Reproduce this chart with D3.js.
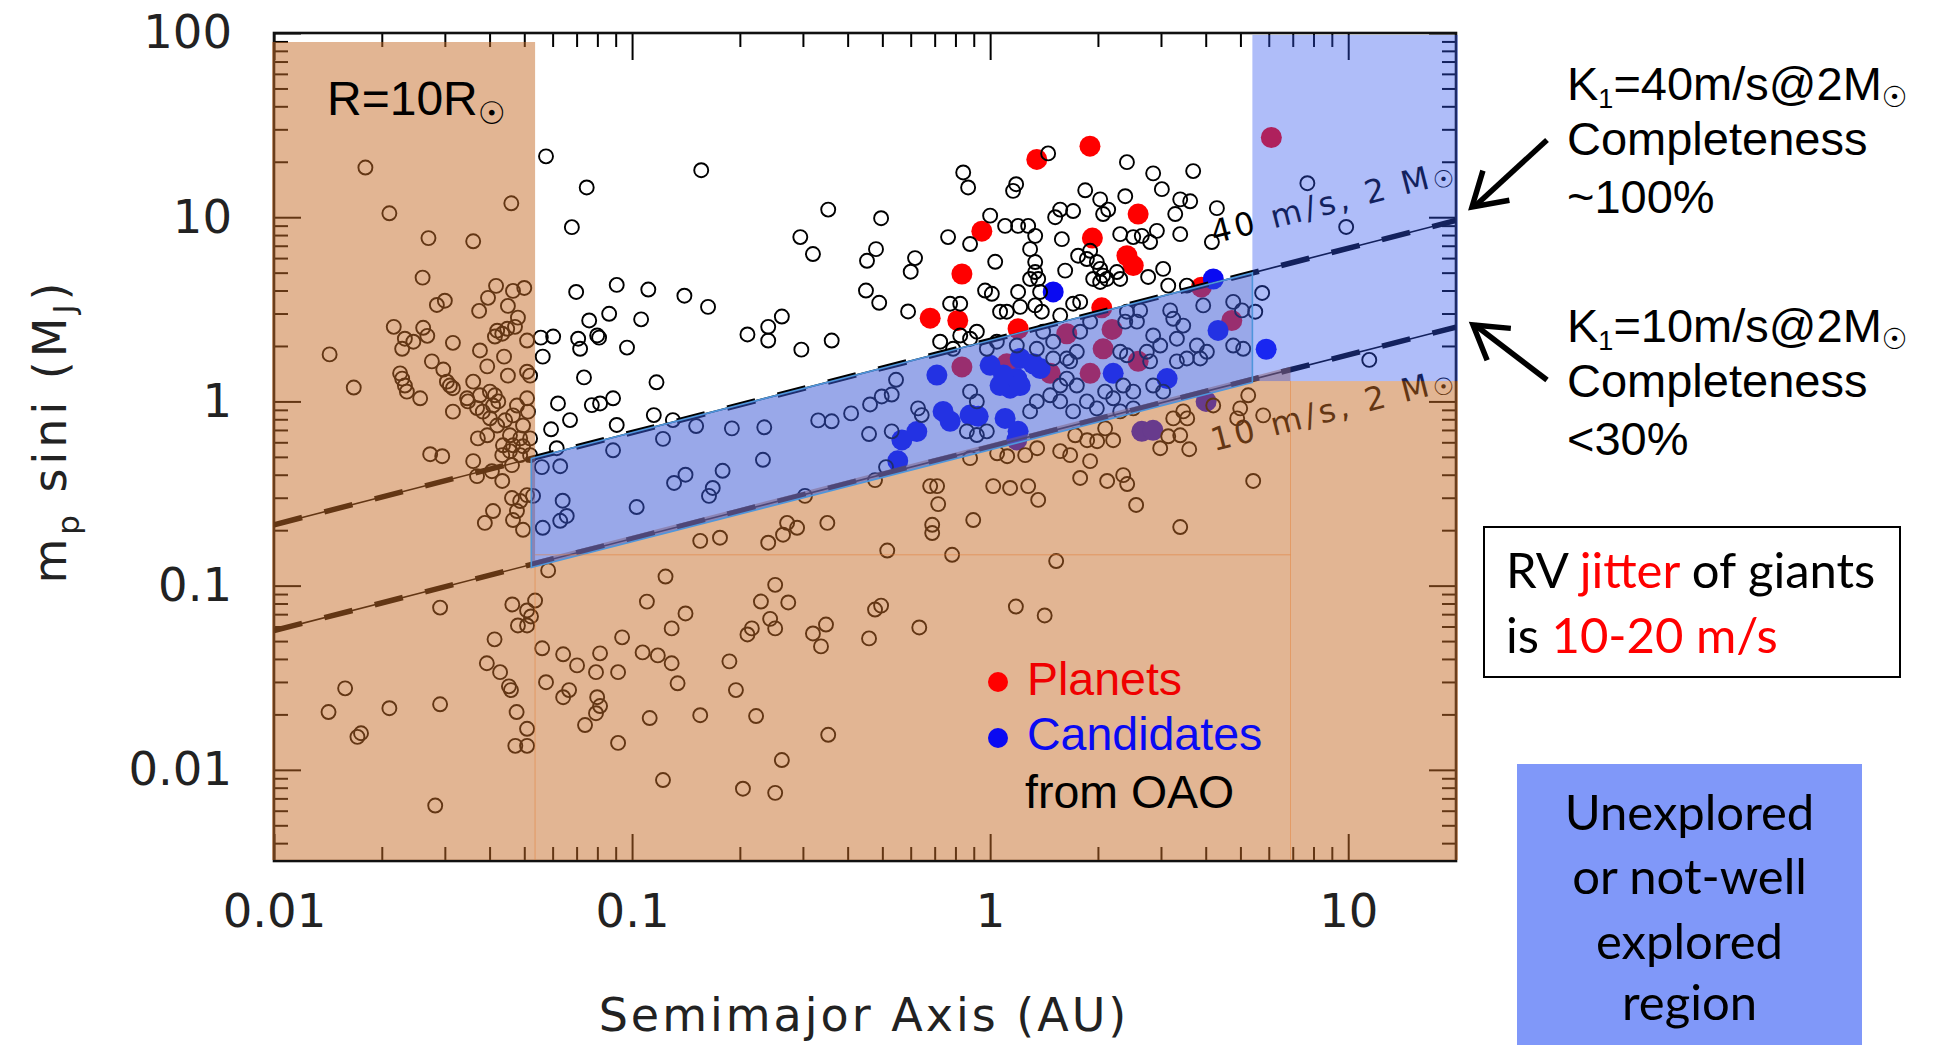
<!DOCTYPE html>
<html>
<head>
<meta charset="utf-8">
<script src="https://cdn.jsdelivr.net/npm/d3@7"></script>
<style>
html,body{margin:0;padding:0;background:#fff;}
svg{display:block;}
</style>
</head>
<body>
<svg id="chart" width="1936" height="1045"></svg>
<script>
// ================= DATA =================
const xDomain = [0.01, 20];
const yDomain = [0.0032, 100];
const xTickValues = [0.01, 0.1, 1, 10];
const xTickLabels = ["0.01", "0.1", "1", "10"];
const yTickValues = [0.01, 0.1, 1, 10, 100];
const yTickLabels = ["0.01", "0.1", "1", "10", "100"];

// known exoplanets (open circles): [semimajor axis AU, m sin i MJ]
const knownPlanets = [
[0.018,18.6],[0.021,10.5],[0.046,11.9],[0.027,7.7],[0.036,7.4],[0.026,4.7],
[0.0285,3.34],[0.030,3.52],[0.0374,3.1],[0.0396,3.65],[0.0417,4.24],[0.045,3.3],[0.0465,3.98],[0.050,4.13],[0.048,2.85],
[0.0216,2.54],[0.0232,2.19],[0.0245,2.11],[0.0228,1.93],[0.0261,2.51],[0.0268,2.27],
[0.0316,2.08],[0.0376,1.89],
[0.0414,2.25],[0.0434,2.33],[0.042,2.42],[0.0448,2.48],[0.0471,2.54],[0.0509,2.14],
[0.0276,1.65],[0.0297,1.49],
[0.0225,1.42],[0.0228,1.33],[0.0232,1.22],[0.0235,1.13],[0.0256,1.04],
[0.031,1.22],[0.0316,1.18],[0.0304,1.28],
[0.036,1.28],[0.0394,1.55],[0.0439,1.75],[0.045,1.38],[0.0509,1.45],[0.0519,1.38],
[0.0348,1.0],[0.0346,1.04],[0.0376,1.08],[0.0401,1.13],[0.0414,1.08],[0.0423,1.0],[0.0409,0.95],
[0.0316,0.88],
[0.0369,0.92],[0.0383,0.88],[0.0401,0.81],[0.0371,0.63],[0.0394,0.655],[0.042,0.74],[0.0442,0.79],[0.0465,0.84],[0.0477,0.95],[0.0509,1.04],[0.0512,0.88],[0.0496,0.74],[0.0487,0.63],[0.0456,0.655],[0.0436,0.578],[0.0465,0.578],[0.0496,0.571],[0.0519,0.63],[0.0434,0.511],[0.0456,0.537],[0.0487,0.511],[0.0519,0.511],
[0.0273,0.517],[0.0295,0.504],
[0.036,0.474],[0.0369,0.393],
[0.0406,0.418],[0.0434,0.37],
[0.0462,0.451],
[0.0409,0.254],[0.0388,0.219],[0.0462,0.299],[0.0487,0.288],[0.0477,0.254],[0.0465,0.227],[0.0496,0.201],[0.0509,0.31],
[0.0143,1.8],[0.0167,1.19],
[0.0463,0.079],[0.0509,0.0733],[0.0522,0.068],[0.048,0.0608],[0.0509,0.0608],
[0.0291,0.076],[0.0413,0.0511],[0.0393,0.0379],[0.0428,0.0339],[0.0453,0.0284],[0.0459,0.0271],[0.0476,0.0206],[0.0509,0.0167],[0.0472,0.0135],[0.0509,0.0135],
[0.0158,0.0277],[0.0142,0.0206],[0.021,0.0216],[0.0291,0.0227],[0.0171,0.0151],[0.0175,0.0158],[0.0282,0.0064],
[0.0575,21.4],[0.156,18.0],[0.0747,14.5],[0.0679,8.83],[0.353,11.0],[0.496,9.88],[0.295,7.8],[0.32,6.31],[0.48,6.71],[0.453,5.8],[0.617,6.0],[0.60,5.06],[0.45,4.0],[0.49,3.43],[0.59,3.08],[0.0698,3.93],[0.0906,4.29],[0.111,4.05],[0.14,3.75],[0.163,3.26],[0.0759,2.75],[0.0863,2.99],[0.106,2.79],[0.0556,2.22],[0.0602,2.25],[0.0707,2.19],[0.0799,2.28],[0.0809,2.22],[0.0716,1.93],[0.0563,1.75],[0.0968,1.96],[0.21,2.31],[0.24,2.54],[0.262,2.89],[0.24,2.14],[0.297,1.91],[0.361,2.14],[0.0734,1.35],[0.117,1.27],[0.0621,0.975],[0.0772,0.955],[0.0814,0.975],[0.0885,1.04],[0.0671,0.792],[0.0594,0.706],[0.0906,0.745],[0.115,0.843],[0.13,0.792],[0.0616,0.557],
[0.0885,0.543],[0.122,0.626],[0.151,0.735],[0.19,0.714],[0.234,0.724],[0.331,0.789],[0.361,0.78],[0.409,0.861],[0.462,0.963],[0.498,1.064],[0.531,1.09],[0.546,1.31],[0.459,0.665],[0.531,0.688],[0.629,0.917],[0.644,0.843],[0.056,0.44],[0.063,0.445],[0.0529,0.307],[0.064,0.289],[0.0657,0.239],[0.063,0.225],[0.0563,0.206],[0.103,0.267],[0.131,0.361],[0.141,0.40],[0.179,0.42],[0.168,0.339],[0.164,0.307],[0.232,0.482],[0.512,0.44],
[0.0583,0.121],[0.0536,0.083],[0.0561,0.0457],[0.0642,0.0424],[0.0702,0.0369],[0.0793,0.0339],[0.0814,0.0429],[0.0914,0.0339],[0.0938,0.0524],[0.107,0.0434],[0.118,0.0418],[0.129,0.0379],[0.134,0.0295],[0.110,0.0819],[0.124,0.112],[0.141,0.0706],[0.129,0.0586],[0.0575,0.0299],[0.0642,0.0248],[0.0667,0.0271],[0.0799,0.0248],[0.0814,0.0222],[0.0793,0.0203],[0.0739,0.0175],[0.0914,0.014],[0.112,0.0191],[0.122,0.0088],[0.155,0.0198],
[0.251,0.101],[0.229,0.082],[0.273,0.081],[0.243,0.066],[0.216,0.0586],[0.21,0.0543],[0.251,0.0586],[0.348,0.0615],[0.32,0.055],[0.337,0.0468],[0.459,0.0517],[0.477,0.0742],[0.496,0.0779],[0.634,0.0593],[1.18,0.077],[1.42,0.0689],[0.187,0.0388],[0.195,0.0271],[0.222,0.0196],[0.353,0.0155],[0.262,0.0113],[0.204,0.0079],[0.251,0.0075],
[0.477,0.374],[0.304,0.307],[0.271,0.219],[0.289,0.206],[0.264,0.189],[0.24,0.171],[0.351,0.219],[0.155,0.175],[0.176,0.182],[0.516,0.155],[0.68,0.347],[0.711,0.347],[0.716,0.277],[0.689,0.214],[0.689,0.193],[0.783,0.147],[0.897,0.227],[1.02,0.347],[1.137,0.339],[1.277,0.347],[1.362,0.292],[0.879,0.492],[1.046,0.523],[1.116,0.504],[1.253,0.511],[1.529,0.136],[1.784,0.384],[2.122,0.37],[2.353,0.398],[2.414,0.356],[2.557,0.274],[3.395,0.208],[5.428,0.37],
[1.728,0.655],[1.866,0.616],[1.99,0.608],[1.902,0.474],[1.569,0.537],[1.673,0.511],[1.353,0.557],[2.095,0.714],[2.206,0.616],[2.985,0.557],[3.143,0.647],[3.395,0.655],[3.597,0.55],[3.461,0.883],[3.246,0.809],[3.551,0.809],[4.198,0.951],[4.993,0.917],[4.897,0.809],[5.257,1.08],[5.788,0.84],
[2.41,19.9],[0.841,17.5],[0.868,14.5],[1.452,22.2],[1.182,15.1],[1.159,13.9],[2.853,17.3],[3.017,14.2],[3.69,17.8],[1.843,14.0],[2.029,12.5],[2.136,11.0],[2.068,10.4],[2.384,13.0],[3.395,12.5],[3.62,12.2],[4.298,11.2],[3.288,10.4],[1.569,11.0],[1.705,10.8],[1.519,10.0],[1.0,10.2],[1.101,8.97],[1.197,8.97],[1.277,8.97],[0.763,7.8],[0.879,7.15],[1.336,7.92],[1.293,6.71],[1.586,7.6],[2.308,8.09],[2.51,7.8],[2.652,7.92],[2.798,7.33],[2.922,8.43],[3.395,8.09],[4.162,7.33],
[1.033,5.73],[1.336,5.71],[1.336,5.04],[1.293,4.62],[1.62,5.13],[1.761,6.18],[1.863,5.93],[1.902,6.57],[1.986,5.71],[2.029,5.24],[2.068,4.82],[1.94,4.62],[2.029,4.45],[2.118,4.62],[2.259,5.04],[2.308,4.62],[2.762,4.74],[3.042,5.24],[3.143,4.25],[0.968,4.0],[1.011,3.84],[1.197,3.93],[1.362,4.62],[1.379,3.93],[0.773,3.39],[0.825,3.39],[1.066,3.07],[1.113,3.07],[1.213,3.26],[1.336,3.32],[1.394,3.07],[1.569,2.93],[1.705,3.39],[1.784,3.47],[3.543,4.25],[0.918,2.39],[0.725,2.11],[0.825,2.28],[0.788,1.93],[0.879,2.19],
[2.41,3.07],[2.624,3.12],[2.57,2.71],[2.384,2.71],[3.183,3.12],[3.461,2.58],[3.246,2.81],[3.936,3.32],[4.773,3.47],[5.05,3.12],[4.773,2.01],[5.091,1.93],[2.853,2.28],[2.985,2.01],[3.323,2.19],[3.78,2.01],[4.03,1.86],[3.543,1.71],[3.861,1.71],[3.323,1.65],[2.739,1.86],[2.798,1.65],[1.902,2.71],[1.784,2.39],[1.406,2.39],[1.5,2.11],[1.35,1.93],[1.746,1.86],[1.673,1.65],[2.308,1.86],[2.41,1.78],
[2.853,1.22],[3.042,1.13],[2.353,1.22],[2.51,1.13],[2.095,1.13],[2.206,1.04],[1.746,1.22],[1.637,1.33],[1.569,1.22],[1.471,1.08],[1.569,1.0],[1.863,1.0],[1.986,0.917],[2.308,0.883],[2.51,0.917],[1.705,0.883],[1.35,1.0],[1.293,0.883],[0.879,1.13],[0.918,1.0],[0.861,0.688],[0.918,0.657],[0.979,0.688],[0.979,1.93],[1.044,2.11],[1.187,2.01],[1.5,1.71],[1.637,1.71],
[7.69,15.3],[9.87,8.85],[5.75,3.88],[5.5,3.07],[11.45,1.68]
];

// planets found at OAO (red filled)
const oaoPlanets = [
[1.35,20.6],[1.90,24.3],[2.59,10.4],[0.948,8.4],[1.93,7.7],[2.41,6.18],[2.51,5.46],[0.834,4.92],[0.68,2.83],[0.812,2.75],[1.197,2.48],[2.05,3.22],
[3.89,4.17],[4.73,2.75],[1.637,2.33],[2.19,2.46],[2.068,1.93],[0.834,1.54],[1.471,1.42],[1.902,1.42],[2.59,1.65],[1.113,1.6],[6.1,27.1]
];

// candidates from OAO (blue filled)
const oaoCandidates = [
[1.5,3.93],[4.2,4.62],[4.33,2.43],[0.71,1.39],[1.0,1.57],[1.213,1.71],[1.32,1.6],[1.38,1.51],[1.066,1.22],[1.137,1.18],[1.187,1.33],[1.09,1.39],[1.213,1.22],[2.206,1.42],[3.12,1.33],[0.739,0.883],[0.773,0.78],[0.879,0.843],[0.926,0.83],[1.101,0.809],[1.197,0.688],[0.567,0.618],[0.624,0.686],[5.9,1.92],
[0.552,0.476],[4.01,1.0],[2.652,0.688],[2.85,0.697],[1.187,0.618]
];

// detection limit lines (K1 at 2 Msun): endpoints [a, m sin i]
const line40 = [[0.01, 0.214], [20, 9.6]];
const line10 = [[0.01, 0.057], [20, 2.53]];

// shaded zones (data units)
const rLimitA = 0.0536;          // R = 10 Rsun
const bandA = [0.0523, 5.4];     // band between the two lines
const stripA = 5.4;              // unexplored strip at large a
const tanRightA = 6.9;
const stripMinM = 1.29;
const tanBoxM = 0.147;

// ================= CHART =================
const svg = d3.select("#chart");
const x = d3.scaleLog().domain(xDomain).range([274, 1456]);
const y = d3.scaleLog().domain(yDomain).range([861, 33]);
const X0 = x.range()[0], X1 = x.range()[1];
const Y1 = y.range()[0], Y0 = y.range()[1];

const TAN = "rgb(198,108,40)";
const STRIP = "rgb(50,85,240)";
const BAND = "rgb(60,88,212)";
const AXFONT = "'DejaVu Sans', sans-serif";
const ARIAL = "'Liberation Sans', Arial, sans-serif";
const CAL = "Lato, 'Open Sans', sans-serif";

function onLine(L, a) {
  const s = Math.log(L[1][1] / L[0][1]) / Math.log(L[1][0] / L[0][0]);
  return L[0][1] * Math.pow(a / L[0][0], s);
}
function minorTicks(dom) {
  const out = [];
  for (let k = -4; k <= 2; k++) for (let d = 2; d <= 9; d++) {
    const v = +(d * Math.pow(10, k)).toPrecision(3);
    if (v > dom[0] * 1.0001 && v < dom[1] * 0.9999) out.push(v);
  }
  return out;
}
const minX = minorTicks(xDomain), minY = minorTicks(yDomain);

// ---- ticks (inward) ----
const tickG = svg.append("g");
function styleTicks(g) { g.select(".domain").remove(); g.selectAll("line").attr("stroke", "#000").attr("stroke-width", 2); g.selectAll("text").remove(); }
tickG.append("g").attr("transform", `translate(0,${Y1})`).call(d3.axisBottom(x).tickValues(minX).tickSize(-14)).call(styleTicks);
tickG.append("g").attr("transform", `translate(0,${Y1})`).call(d3.axisBottom(x).tickValues(xTickValues).tickSize(-27)).call(styleTicks);
tickG.append("g").attr("transform", `translate(0,${Y0})`).call(d3.axisTop(x).tickValues(minX).tickSize(-14)).call(styleTicks);
tickG.append("g").attr("transform", `translate(0,${Y0})`).call(d3.axisTop(x).tickValues(xTickValues).tickSize(-27)).call(styleTicks);
tickG.append("g").attr("transform", `translate(${X0},0)`).call(d3.axisLeft(y).tickValues(minY).tickSize(-14)).call(styleTicks);
tickG.append("g").attr("transform", `translate(${X0},0)`).call(d3.axisLeft(y).tickValues(yTickValues).tickSize(-27)).call(styleTicks);
tickG.append("g").attr("transform", `translate(${X1},0)`).call(d3.axisRight(y).tickValues(minY).tickSize(-14)).call(styleTicks);
tickG.append("g").attr("transform", `translate(${X1},0)`).call(d3.axisRight(y).tickValues(yTickValues).tickSize(-27)).call(styleTicks);

// frame
svg.append("rect").attr("x", X0).attr("y", Y0).attr("width", X1 - X0).attr("height", Y1 - Y0)
  .attr("fill", "none").attr("stroke", "#111").attr("stroke-width", 2.6);

// ---- points ----
svg.append("g").selectAll("circle").data(oaoPlanets).join("circle")
  .attr("cx", d => x(d[0])).attr("cy", d => y(d[1])).attr("r", 10.5).attr("fill", "#ff0000");
svg.append("g").selectAll("circle").data(oaoCandidates).join("circle")
  .attr("cx", d => x(d[0])).attr("cy", d => y(d[1])).attr("r", 10.5).attr("fill", "#0a0af2");
svg.append("g").selectAll("circle").data(knownPlanets).join("circle")
  .attr("cx", d => x(d[0])).attr("cy", d => y(d[1])).attr("r", 7)
  .attr("fill", "none").attr("stroke", "#000").attr("stroke-width", 1.9);

// ---- detection lines ----
const clip = svg.append("clipPath").attr("id", "plotclip");
clip.append("rect").attr("x", X0).attr("y", Y0).attr("width", X1 - X0).attr("height", Y1 - Y0);
const lineGen = d3.line().x(d => x(d[0])).y(d => y(d[1]));
const lg = svg.append("g").attr("clip-path", "url(#plotclip)");
[line40, line10].forEach(L => {
  lg.append("path").attr("d", lineGen(L)).attr("fill", "none").attr("stroke", "#000").attr("stroke-width", 1.6);
  lg.append("path").attr("d", lineGen(L)).attr("fill", "none").attr("stroke", "#000").attr("stroke-width", 5.5)
    .attr("stroke-dasharray", "29,23");
});

// line labels
const ang = -Math.atan((y(onLine(line40, 1)) - y(onLine(line40, 10))) / (x(10) - x(1))) * 180 / Math.PI;
function lineLabel(L, a, off, txt) {
  const t = svg.append("text")
    .attr("transform", `translate(${x(a)},${y(onLine(L, a)) + off}) rotate(${ang})`)
    .attr("font-family", AXFONT).attr("font-size", 32).attr("letter-spacing", 3.6).attr("fill", "#000");
  t.append("tspan").text(txt);
  t.append("tspan").attr("font-size", 24).attr("dy", 3).text("\u2609");
}
lineLabel(line40, 4.22, -39, "40 m/s, 2 M");
lineLabel(line10, 4.22, 62, "10 m/s, 2 M");

// ---- overlays ----
const ov = svg.append("g");
const xa = x(bandA[0]), xb = x(bandA[1]), xt = x(tanRightA);
ov.append("rect").attr("x", X0 - 2).attr("y", Y0 + 9).attr("width", x(rLimitA) - X0 + 2).attr("height", Y1 - 1 - (Y0 + 9))
  .attr("fill", TAN).attr("fill-opacity", 0.5);
const midPts = [[x(rLimitA), y(onLine(line10, rLimitA)) - 3], [xt, y(onLine(line10, tanRightA)) - 3], [xt, Y1 - 1], [x(rLimitA), Y1 - 1]];
ov.append("path").attr("d", d3.line()(midPts) + "Z").attr("fill", TAN).attr("fill-opacity", 0.5);
ov.append("rect").attr("x", xt).attr("y", y(stripMinM)).attr("width", X1 + 2 - xt).attr("height", Y1 - 1 - y(stripMinM))
  .attr("fill", TAN).attr("fill-opacity", 0.5);
ov.append("rect").attr("x", x(stripA)).attr("y", Y0 + 2).attr("width", X1 + 2 - x(stripA)).attr("height", y(stripMinM) - Y0 - 2)
  .attr("fill", STRIP).attr("fill-opacity", 0.39);
const bandPts = [[xa, y(onLine(line40, bandA[0]))], [xb, y(onLine(line40, bandA[1]))],
                 [xb, y(onLine(line10, bandA[1])) + 3], [xa, y(onLine(line10, bandA[0])) + 3]];
ov.append("path").attr("d", d3.line()(bandPts) + "Z").attr("fill", BAND).attr("fill-opacity", 0.52)
  .attr("stroke", "#4f96dc").attr("stroke-width", 1.6);
// faint edges of the tan boxes
ov.append("path").attr("d", `M${x(rLimitA)},${y(onLine(line10, rLimitA)) + 3}V${Y1 - 1}M${x(rLimitA)},${y(tanBoxM)}H${xt}M${xt},${y(stripMinM)}V${Y1 - 1}`)
  .attr("stroke", "rgb(225,125,55)").attr("stroke-width", 1).attr("stroke-opacity", 0.55).attr("fill", "none");

// ---- axis labels ----
const gxb = svg.append("g").attr("transform", `translate(0,${Y1})`)
  .call(d3.axisBottom(x).tickValues(xTickValues).tickSize(0).tickPadding(33).tickFormat((d, i) => xTickLabels[i]));
gxb.select(".domain").remove();
gxb.selectAll("text").attr("font-family", AXFONT).attr("font-size", 46.5).attr("fill", "#222");
const gyl = svg.append("g").attr("transform", `translate(${X0},0)`)
  .call(d3.axisLeft(y).tickValues(yTickValues).tickSize(0).tickPadding(42).tickFormat((d, i) => yTickLabels[i]));
gyl.select(".domain").remove();
gyl.selectAll("text").attr("font-family", AXFONT).attr("font-size", 46.5).attr("fill", "#222");

svg.append("text").attr("x", (X0 + X1) / 2 - 1).attr("y", 1031).attr("text-anchor", "middle")
  .attr("font-family", AXFONT).attr("font-size", 46).attr("letter-spacing", 3).attr("fill", "#222")
  .text("Semimajor Axis (AU)");
const yt = svg.append("text").attr("transform", "translate(66,431) rotate(-90)").attr("text-anchor", "middle")
  .attr("font-family", AXFONT).attr("font-size", 46).attr("letter-spacing", 4).attr("fill", "#222");
yt.append("tspan").text("m");
yt.append("tspan").attr("font-size", 31).attr("dy", 13).text("p");
yt.append("tspan").attr("dy", -13).text(" sini (M");
yt.append("tspan").attr("font-size", 31).attr("dy", 9).text("J");
yt.append("tspan").attr("dy", -9).text(")");

// ---- annotations in plot ----
const rt = svg.append("text").attr("x", 327).attr("y", 115).attr("font-family", ARIAL).attr("font-size", 48).attr("fill", "#000");
rt.append("tspan").text("R=10R");
rt.append("tspan").attr("font-family", "'DejaVu Sans'").attr("font-size", 31).attr("dy", 9).text("\u2609");

svg.append("circle").attr("cx", 998).attr("cy", 682).attr("r", 10).attr("fill", "#ff0000");
svg.append("circle").attr("cx", 998).attr("cy", 738).attr("r", 10).attr("fill", "#0a0af2");
svg.append("text").attr("x", 1027).attr("y", 695).attr("font-family", ARIAL).attr("font-size", 46.5).attr("fill", "#f00000").text("Planets");
svg.append("text").attr("x", 1027).attr("y", 750).attr("font-family", ARIAL).attr("font-size", 46.5).attr("fill", "#0a0af2").text("Candidates");
svg.append("text").attr("x", 1025).attr("y", 808).attr("font-family", ARIAL).attr("font-size", 46.5).attr("fill", "#000").text("from OAO");

// ---- right side annotations ----
function kLabel(yb, val) {
  const t = svg.append("text").attr("x", 1567).attr("y", yb).attr("font-family", ARIAL).attr("font-size", 47).attr("fill", "#000");
  t.append("tspan").text("K");
  t.append("tspan").attr("font-size", 27).attr("dy", 8).text("1");
  t.append("tspan").attr("dy", -8).text("=" + val + "m/s@2M");
  t.append("tspan").attr("font-family", "'DejaVu Sans'").attr("font-size", 29).attr("dy", 7).text("\u2609");
}
function plain(xp, yb, txt) {
  svg.append("text").attr("x", xp).attr("y", yb).attr("font-family", ARIAL).attr("font-size", 47).attr("fill", "#000").text(txt);
}
kLabel(100, "40"); plain(1567, 155, "Completeness"); plain(1567, 213, "~100%");
kLabel(342, "10"); plain(1567, 397, "Completeness"); plain(1567, 455, "<30%");

function arrow(tail, tip) {
  const g = svg.append("g").attr("stroke", "#000").attr("stroke-width", 5.5).attr("fill", "none");
  g.append("line").attr("x1", tail[0]).attr("y1", tail[1]).attr("x2", tip[0] + 2).attr("y2", tip[1]);
  const a = Math.atan2(tail[1] - tip[1], tail[0] - tip[0]);
  const L = 38, sp = 0.55;
  const p1 = [tip[0] + L * Math.cos(a + sp), tip[1] + L * Math.sin(a + sp)];
  const p2 = [tip[0] + L * Math.cos(a - sp), tip[1] + L * Math.sin(a - sp)];
  g.append("path").attr("d", `M${p1}L${tip}L${p2}`).attr("stroke-linejoin", "miter");
}
arrow([1547, 140], [1472, 207]);
arrow([1547, 380], [1473, 325]);

// jitter box
svg.append("rect").attr("x", 1484).attr("y", 527).attr("width", 416).attr("height", 150)
  .attr("fill", "#fff").attr("stroke", "#000").attr("stroke-width", 2);
const j1 = svg.append("text").attr("x", 1506).attr("y", 588).attr("font-family", CAL).attr("font-size", 49).attr("fill", "#000");
j1.append("tspan").text("RV ");
j1.append("tspan").attr("fill", "#ff0000").text("jitter");
j1.append("tspan").text(" of giants");
const j2 = svg.append("text").attr("x", 1506).attr("y", 653).attr("font-family", CAL).attr("font-size", 49).attr("fill", "#000");
j2.append("tspan").text("is ");
j2.append("tspan").attr("fill", "#ff0000").text("10-20 m/s");

// unexplored box
svg.append("rect").attr("x", 1517).attr("y", 764).attr("width", 345).attr("height", 290).attr("fill", "#8098f9");
["Unexplored", "or not-well", "explored", "region"].forEach((s, i) => {
  svg.append("text").attr("x", 1689.5).attr("y", [829.5, 894, 959, 1020][i]).attr("text-anchor", "middle")
    .attr("font-family", CAL).attr("font-size", 49).attr("fill", "#000").text(s);
});
</script>
</body>
</html>
